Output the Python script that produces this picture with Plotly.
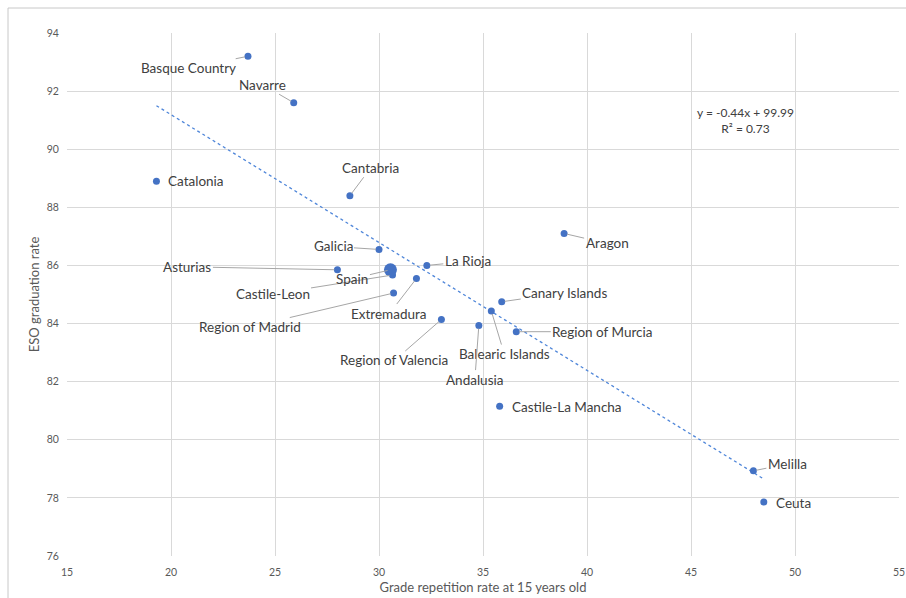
import plotly.graph_objects as go

regions = ["Basque Country", "Navarre", "Catalonia", "Cantabria", "Aragon", "Galicia",
           "La Rioja", "Asturias", "Castile-Leon", "Extremadura", "Region of Madrid",
           "Canary Islands", "Balearic Islands", "Region of Valencia", "Andalusia",
           "Region of Murcia", "Castile-La Mancha", "Melilla", "Ceuta"]
repetition = [23.7, 25.9, 19.3, 28.6, 38.9, 30.0, 32.3, 28.0, 30.65, 31.8, 30.7,
              35.9, 35.4, 33.0, 34.8, 36.6, 35.8, 48.0, 48.5]
graduation = [93.2, 91.6, 88.9, 88.4, 87.1, 86.55, 86.0, 85.85, 85.67, 85.55, 85.05,
              84.75, 84.43, 84.14, 83.93, 83.72, 81.15, 78.93, 77.86]

spain_label = "Spain"
spain_repetition = 30.55
spain_graduation = 85.85

trend_slope = -0.44
trend_intercept = 99.99
trend_r2 = 0.73

x_ticks = [15, 20, 25, 30, 35, 40, 45, 50, 55]
y_ticks = [76, 78, 80, 82, 84, 86, 88, 90, 92, 94]

# label offsets (pixels): text centre relative to the point
label_offsets = {
    "Basque Country": (-59, 12, True),
    "Navarre": (-31, -18, True),
    "Catalonia": (40, 0, False),
    "Cantabria": (21, -28, True),
    "Aragon": (43, 10, True),
    "Galicia": (-46, -3, True),
    "La Rioja": (41, -4, True),
    "Asturias": (-150, -3, True),
    "Castile-Leon": (-120, 19, True),
    "Extremadura": (-27, 35, True),
    "Region of Madrid": (-144, 34, True),
    "Canary Islands": (63, -9, True),
    "Balearic Islands": (13, 43, True),
    "Region of Valencia": (-47, 41, True),
    "Andalusia": (-4, 54, True),
    "Region of Murcia": (86, 0, True),
    "Castile-La Mancha": (67, 1, False),
    "Melilla": (34, -7, True),
    "Ceuta": (30, 1, False),
    "Spain": (-38, 9, True),
}

BLUE = "#4472c4"
TREND = "#4f86d9"
TEXT = "#404040"
FONT = "Lato"

fig = go.Figure()

all_x = repetition + [spain_repetition]
tx = [min(all_x), max(all_x)]
ty = [trend_slope * v + trend_intercept for v in tx]
fig.add_trace(go.Scatter(x=tx, y=ty, mode="lines",
                         line=dict(color=TREND, width=1.3, dash="dot"),
                         hoverinfo="skip", showlegend=False))

fig.add_trace(go.Scatter(x=repetition, y=graduation, mode="markers",
                         marker=dict(color=BLUE, size=7), text=regions,
                         showlegend=False))
fig.add_trace(go.Scatter(x=[spain_repetition], y=[spain_graduation], mode="markers",
                         marker=dict(color=BLUE, size=13), text=[spain_label],
                         showlegend=False))

annotations = []
for name, xv, yv in list(zip(regions, repetition, graduation)) + [(spain_label, spain_repetition, spain_graduation)]:
    ax, ay, leader = label_offsets[name]
    annotations.append(dict(
        x=xv, y=yv, xref="x", yref="y", text=name, showarrow=True,
        ax=ax, ay=ay, arrowhead=0, arrowwidth=1,
        arrowcolor="#a6a6a6" if leader else "rgba(0,0,0,0)",
        standoff=3, font=dict(family=FONT, size=13.5, color=TEXT),
        xanchor="center", yanchor="middle"))

annotations.append(dict(
    x=47.6, y=91.0, xref="x", yref="y", showarrow=False,
    text=f"y = {trend_slope}x + {trend_intercept}<br>R² = {trend_r2}",
    font=dict(family=FONT, size=12, color=TEXT), align="center"))

W, H = 906, 598
ML, MR, MT, MB = 67, 7, 33, 42
pw, ph = W - ML - MR, H - MT - MB
BORDER = 8  # chart frame inset from the page edge

fig.update_layout(
    width=W, height=H,
    margin=dict(l=ML, r=MR, t=MT, b=MB),
    paper_bgcolor="white", plot_bgcolor="white",
    font=dict(family=FONT, color="#595959"),
    annotations=annotations,
    xaxis=dict(range=[15, 55], tickvals=x_ticks, showgrid=True, gridcolor="#d9d9d9",
               gridwidth=1, zeroline=False, showline=False, automargin=False,
               ticks="outside", ticklen=6, tickcolor="rgba(0,0,0,0)",
               tickfont=dict(family=FONT, size=10.5, color="#595959"),
               title=dict(text="Grade repetition rate at 15 years old",
                          font=dict(family=FONT, size=13, color="#595959"), standoff=6)),
    yaxis=dict(range=[76, 94], tickvals=y_ticks, showgrid=True, gridcolor="#d9d9d9",
               gridwidth=1, zeroline=False, showline=False, automargin=False,
               ticks="outside", ticklen=5, tickcolor="rgba(0,0,0,0)",
               tickfont=dict(family=FONT, size=10.5, color="#595959"),
               title=dict(text="ESO graduation rate",
                          font=dict(family=FONT, size=13, color="#595959"), standoff=4)),
    shapes=[
        dict(type="line", xref="paper", yref="paper", x0=-(ML - BORDER) / pw, x1=1 + MR / pw,
             y0=1 + (MT - BORDER) / ph, y1=1 + (MT - BORDER) / ph,
             line=dict(color="#c8c8c8", width=1)),
        dict(type="line", xref="paper", yref="paper", x0=-(ML - BORDER) / pw, x1=-(ML - BORDER) / pw,
             y0=-MB / ph, y1=1 + (MT - BORDER) / ph,
             line=dict(color="#c8c8c8", width=1)),
    ],
)

fig.write_html("out.html", config={"displayModeBar": False},
               post_script="document.body.style.margin='0';document.body.style.overflow='hidden';")
